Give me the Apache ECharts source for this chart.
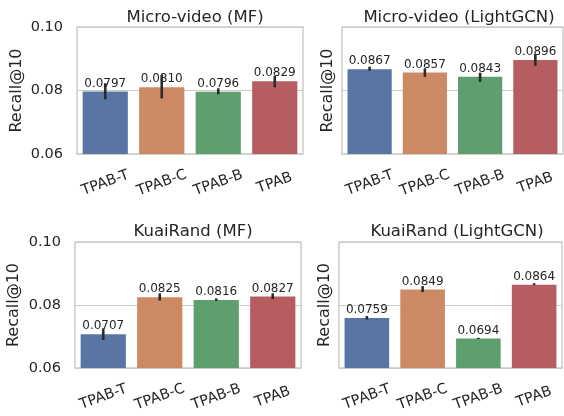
<!DOCTYPE html>
<html>
<head>
<meta charset="utf-8">
<script src="https://cdn.jsdelivr.net/npm/echarts@6/dist/echarts.min.js"></script>
<style>
html,body{margin:0;padding:0;background:#fff;}
#chart{width:564px;height:416px;}
</style>
</head>
<body>
<div id="chart"></div>
<script>
// ---- data ----
var categories = ['TPAB-T', 'TPAB-C', 'TPAB-B', 'TPAB'];
var yTicks = [0.06, 0.08, 0.10];

var titles = ['Micro-video (MF)', 'Micro-video (LightGCN)', 'KuaiRand (MF)', 'KuaiRand (LightGCN)'];
var yLabel = 'Recall@10';

var microMF      = [0.0797, 0.0810, 0.0796, 0.0829];
var microMFLow   = [0.0772, 0.0775, 0.0788, 0.0810];
var microMFHigh  = [0.0823, 0.0849, 0.0807, 0.0846];

var microLG      = [0.0867, 0.0857, 0.0843, 0.0896];
var microLGLow   = [0.0862, 0.0843, 0.0827, 0.0878];
var microLGHigh  = [0.0875, 0.0870, 0.0856, 0.0915];

var kuaiMF       = [0.0707, 0.0825, 0.0816, 0.0827];
var kuaiMFLow    = [0.0689, 0.0814, 0.0813, 0.0819];
var kuaiMFHigh   = [0.0726, 0.0837, 0.0821, 0.0837];

var kuaiLG       = [0.0759, 0.0849, 0.0694, 0.0864];
var kuaiLGLow    = [0.0754, 0.0841, 0.0692, 0.0863];
var kuaiLGHigh   = [0.0765, 0.0860, 0.0696, 0.0869];

var barColors = ['#5875a4', '#cc8963', '#5f9e6e', '#b55d60'];

// ---- layout ----
var panels = [
  {vals: microMF, low: microMFLow, high: microMFHigh, grid: {left: 77, right: 261, top: 27, bottom: 262}, showY: true, nameGap: 52, tx: 190, ty: 4},
  {vals: microLG, low: microLGLow, high: microLGHigh, grid: {left: 342, right: 1, top: 27, bottom: 262}, showY: false, nameGap: 6, tx: 454, ty: 4},
  {vals: kuaiMF, low: kuaiMFLow, high: kuaiMFHigh, grid: {left: 75, right: 263, top: 242, bottom: 48}, showY: true, nameGap: 53, tx: 188, ty: 218},
  {vals: kuaiLG, low: kuaiLGLow, high: kuaiLGHigh, grid: {left: 339, right: 2, top: 242, bottom: 48}, showY: false, nameGap: 6, tx: 452, ty: 218}
];

var FONT = 'DejaVu Sans';
var TXT = '#262626';

var option = {
  animation: false,
  backgroundColor: '#ffffff',
  textStyle: {fontFamily: FONT},
  title: [], grid: [], xAxis: [], yAxis: [], series: []
};

panels.forEach(function (p, i) {
  option.title.push({
    text: titles[i], left: p.tx, top: p.ty, textAlign: 'center',
    textStyle: {fontFamily: FONT, fontSize: 16.5, fontWeight: 'normal', color: TXT}
  });
  option.grid.push(Object.assign({show: true, borderColor: '#cccccc', borderWidth: 1.5, backgroundColor: 'transparent'}, p.grid));
  option.xAxis.push({
    type: 'category', gridIndex: i, data: categories,
    axisLine: {show: false}, axisTick: {show: false},
    axisLabel: {interval: 0, hideOverlap: false, rotate: 20, align: 'center', verticalAlign: 'middle', margin: 29,
      fontFamily: FONT, fontSize: 14.5, color: TXT}
  });
  option.yAxis.push({
    type: 'value', gridIndex: i, min: yTicks[0], max: yTicks[yTicks.length - 1], interval: 0.02,
    name: yLabel, nameLocation: 'middle', nameGap: p.nameGap, nameRotate: 90,
    nameTextStyle: {fontFamily: FONT, fontSize: 16, color: TXT},
    axisLine: {show: false}, axisTick: {show: false},
    axisLabel: {show: p.showY, margin: 14, fontFamily: FONT, fontSize: 14.5, color: TXT,
      formatter: function (v) { return v.toFixed(2); }},
    splitLine: {show: true, lineStyle: {color: '#cccccc', width: 1.2}}
  });
  option.series.push({
    type: 'bar', xAxisIndex: i, yAxisIndex: i, barCategoryGap: '20%', z: 2,
    data: p.vals.map(function (v, k) {
      return {value: v, itemStyle: {color: barColors[k]}};
    }),
    label: {show: true, position: 'top', distance: 2, fontFamily: FONT, fontSize: 12, color: TXT,
      formatter: function (d) { return d.value.toFixed(4); }}
  });
  option.series.push({
    type: 'custom', xAxisIndex: i, yAxisIndex: i, z: 10,
    data: p.low.map(function (lo, k) { return [k, lo, p.high[k]]; }),
    renderItem: function (params, api) {
      var a = api.coord([api.value(0), api.value(1)]);
      var b = api.coord([api.value(0), api.value(2)]);
      return {
        type: 'line',
        shape: {x1: a[0], y1: a[1], x2: b[0], y2: b[1]},
        style: {stroke: '#2b2b2b', lineWidth: 2.6}
      };
    }
  });
});

var chart = echarts.init(document.getElementById('chart'), null, {renderer: 'canvas'});
chart.setOption(option);
</script>
</body>
</html>
